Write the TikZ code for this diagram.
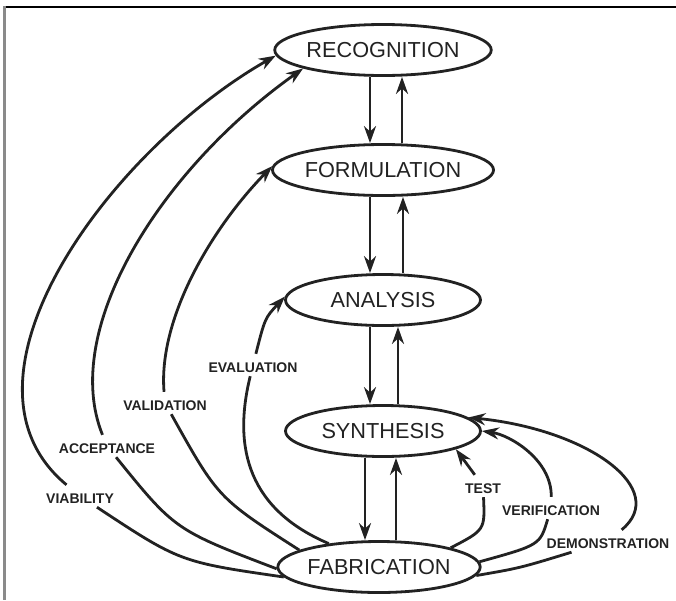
\documentclass[tikz,border=0pt]{standalone}
\usepackage{fontspec}
\setmainfont{Liberation Sans}
\usetikzlibrary{shapes.geometric,arrows.meta}
\definecolor{ink}{HTML}{222222}
\definecolor{rule}{HTML}{8A8A8A}
\begin{document}
\begin{tikzpicture}[x=1pt,y=-1pt,
  phase/.style={ellipse, draw=ink, line width=2.8pt, minimum width=195pt,
    minimum height=51pt, inner sep=0pt, text=ink,
    font=\fontsize{21.7}{24}\selectfont},
  tag/.style={anchor=base, inner xsep=3pt, inner ysep=4pt, text height=14pt,
    text depth=0pt, text=ink, font=\fontsize{14}{16}\selectfont\bfseries},
  link/.style={draw=ink, line width=2.8pt},
  flow/.style={link, -{Stealth[length=17pt,width=12pt,inset=5.5pt]}},
]
\useasboundingbox (0,0) rectangle (676,600);

% frame edges
\draw[line width=2pt, black] (4,6.5) -- (676,6.5);
\draw[line width=2.5pt, rule] (4.5,6) -- (4.5,600);

% design phases
\node[phase] (rec)  at (383,50)  {RECOGNITION};
\node[phase] (form) at (383,170) {FORMULATION};
\node[phase] (ana)  at (383,300) {ANALYSIS};
\node[phase] (syn)  at (383,431) {SYNTHESIS};
\node[phase] (fab)  at (379,567) {FABRICATION};

% feedback labels
\node[tag] (viab)  at (80,503)  {VIABILITY};
\node[tag] (acc)   at (107,453) {ACCEPTANCE};
\node[tag] (val)   at (165,410) {VALIDATION};
\node[tag] (eval)  at (253,372) {EVALUATION};
\node[tag] (test)  at (483,493) {TEST};
\node[tag] (verif) at (551,515) {VERIFICATION};
\node[tag] (demo)  at (608,548) {DEMONSTRATION};

% forward and backward steps between neighbouring phases
\coordinate (rf1) at ([xshift=-13pt]rec.south);
\coordinate (rf2) at ([xshift=19pt]form.north);
\coordinate (fa1) at ([xshift=-13pt]form.south);
\coordinate (fa2) at ([xshift=20pt]ana.north);
\coordinate (as1) at ([xshift=-13pt]ana.south);
\coordinate (as2) at ([xshift=15pt]syn.north);
\coordinate (sf1) at ([xshift=-18pt]syn.south);
\coordinate (sf2) at ([xshift=17pt]fab.north);
\draw[flow] (rf1) -- (rf1 |- form.north);
\draw[flow] (rf2) -- (rf2 |- rec.south);
\draw[flow] (fa1) -- (fa1 |- ana.north);
\draw[flow] (fa2) -- (fa2 |- form.south);
\draw[flow] (as1) -- (as1 |- syn.north);
\draw[flow] (as2) -- (as2 |- ana.south);
\draw[flow] (sf1) -- (sf1 |- fab.north);
\draw[flow] (sf2) -- (sf2 |- syn.south);

% feedback from fabrication, left side
\draw[link] (fab.186) .. controls (180,562) .. (viab);
\draw[flow] (viab) .. controls (-60,380) and (110,150) .. (rec.183);
\draw[link] (fab.181) .. controls (175,530) .. (acc);
\draw[flow] (acc) .. controls (60,330) and (160,170) .. (rec.193);
\draw[link] (fab.168) .. controls (218,498) .. (val);
\draw[flow] (val) .. controls (158,320) and (210,230) .. (form.178);
\draw[link] (fab.155) .. controls (250,510) and (232,450) .. (eval);
\draw[flow] (eval) .. controls (265,318) .. (ana.178);

% feedback from fabrication, right side
\draw[link] (fab.15) .. controls (485,530) .. (test);
\draw[flow] (test) -- (syn.346);
\draw[link] (fab.3) .. controls (540,545) .. (verif);
\draw[flow] (verif) .. controls (552,460) and (510,435) .. (syn.0);
\draw[link] (fab.355) .. controls (520,568) .. (demo);
\draw[flow] (demo) .. controls (670,490) and (590,430) .. (syn.9);
\end{tikzpicture}
\end{document}
